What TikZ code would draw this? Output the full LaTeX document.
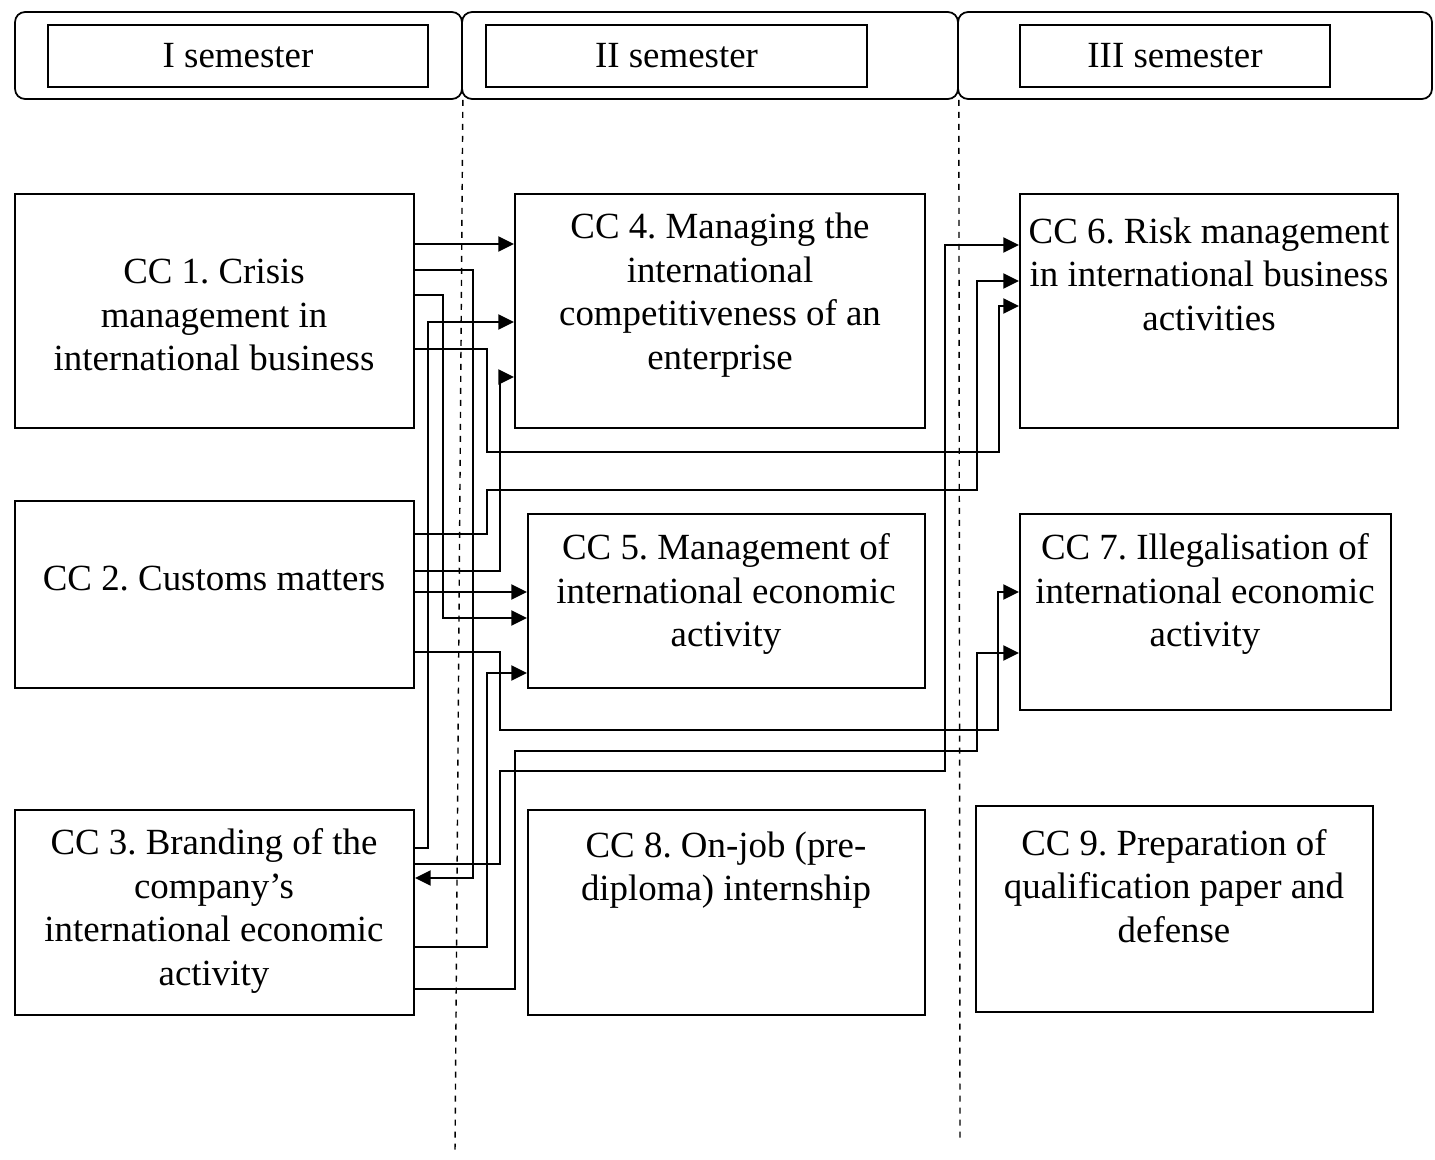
\documentclass[tikz,border=0pt]{standalone}
\usepackage{fontspec}
\setmainfont{Liberation Serif}
\usepackage{tikz}
\usetikzlibrary{arrows.meta}

\newcommand{\cctext}{\fontsize{21}{24.75}\selectfont}
\frenchspacing

\tikzset{
  semrow/.style  = {draw, line width=1pt, rounded corners=0.2cm, inner sep=0pt},
  semname/.style = {draw, line width=1pt, inner sep=0pt, minimum height=1.24cm, font=\cctext},
  ccbox/.style   = {draw, line width=1.1pt, inner sep=0pt},
  cctxt/.style   = {align=center, inner sep=0pt, font=\cctext},
  link/.style    = {line width=1.35pt, -{Triangle[length=9pt,width=8.5pt]}},
  border/.style  = {line width=0.8pt, dash pattern=on 0.12cm off 0.12cm}
}

\begin{document}
\begin{tikzpicture}[x=0.02cm, y=-0.02cm]
        \path []  (0,0)   -- (1435,1159);

        % semester headers
        \node [semrow, minimum width=8.94cm, minimum height=1.74cm] (row1) at (238.5,55.5)  {};
        \node [semrow, minimum width=9.92cm, minimum height=1.74cm] (row2) at (710,55.5)    {};
        \node [semrow, minimum width=9.48cm, minimum height=1.74cm] (row3) at (1195,55.5)   {};
        \node [semname, minimum width=7.6cm]  (sem1) at (238,56)    {I semester};
        \node [semname, minimum width=7.62cm] (sem2) at (676.5,56)  {II semester};
        \node [semname, minimum width=6.2cm]  (sem3) at (1175,56)   {III semester};

        \draw [border]  (row1.south east) -- (455,1152);
        \draw [border]  (row2.south east) -- (960,1142);

        % boxes
        \node [ccbox, minimum width=7.98cm, minimum height=4.68cm] (cc1) at (214.5,311)   {};
        \node [ccbox, minimum width=7.98cm, minimum height=3.74cm] (cc2) at (214.5,594.5) {};
        \node [ccbox, minimum width=7.98cm, minimum height=4.1cm]  (cc3) at (214.5,912.5) {};
        \node [ccbox, minimum width=8.2cm,  minimum height=4.68cm] (cc4) at (720,311)     {};
        \node [ccbox, minimum width=7.94cm, minimum height=3.48cm] (cc5) at (726.5,601)   {};
        \node [ccbox, minimum width=7.94cm, minimum height=4.1cm]  (cc8) at (726.5,912.5) {};
        \node [ccbox, minimum width=7.56cm, minimum height=4.68cm] (cc6) at (1209,311)    {};
        \node [ccbox, minimum width=7.42cm, minimum height=3.92cm] (cc7) at (1205.5,612)  {};
        \node [ccbox, minimum width=7.94cm, minimum height=4.12cm] (cc9) at (1174.5,909)  {};

        \node [cctxt] (t1) at (214,315)  {CC 1. Crisis\\management in\\international business};
        \node [cctxt] (t2) at (214,579)  {CC 2. Customs matters};
        \node [cctxt] (t3) at (214,911)  {CC 3. Branding of the\\company’s\\international economic\\activity};
        \node [cctxt] (t4) at (720,295)  {CC 4. Managing the\\international\\competitiveness of an\\enterprise};
        \node [cctxt] (t5) at (726,594)  {CC 5. Management of\\international economic\\activity};
        \node [cctxt] (t8) at (726,870)  {CC 8. On-job (pre-\\diploma) internship};
        \node [cctxt] (t6) at (1209,274) {CC 6. Risk management\\in international business\\activities};
        \node [cctxt] (t7) at (1205,594) {CC 7. Illegalisation of\\international economic\\activity};
        \node [cctxt] (t9) at (1174,886) {CC 9. Preparation of\\qualification paper and\\defense};

        % links
        \draw [link]  (cc1.east |- 0,244) -- (cc4.west |- 0,244);
        \draw [link]  (cc1.east |- 0,270) -| (473,878) -- (cc3.east |- 0,878);
        \draw [link]  (cc1.east |- 0,295) -| (443,618) -- (cc5.west |- 0,618);
        \draw [link]  (cc1.east |- 0,349) -| (487,452) -| (999,306) -- (cc6.west |- 0,306);

        \draw [link]  (cc2.east |- 0,534) -| (487,490) -| (977,281) -- (cc6.west |- 0,281);
        \draw [link]  (cc2.east |- 0,571) -| (500,377) -- (cc4.west |- 0,377);
        \draw [link]  (cc2.east |- 0,592) -- (cc5.west |- 0,592);
        \draw [link]  (cc2.east |- 0,652) -| (500,730) -| (998,592) -- (cc7.west |- 0,592);

        \draw [link]  (cc3.east |- 0,848) -| (428,322) -- (cc4.west |- 0,322);
        \draw [link]  (cc3.east |- 0,864) -| (500,771) -| (945,245) -- (cc6.west |- 0,245);
        \draw [link]  (cc3.east |- 0,947) -| (487,673) -- (cc5.west |- 0,673);
        \draw [link]  (cc3.east |- 0,989) -| (515,751) -| (977,653) -- (cc7.west |- 0,653);
      \end{tikzpicture}
\end{document}
